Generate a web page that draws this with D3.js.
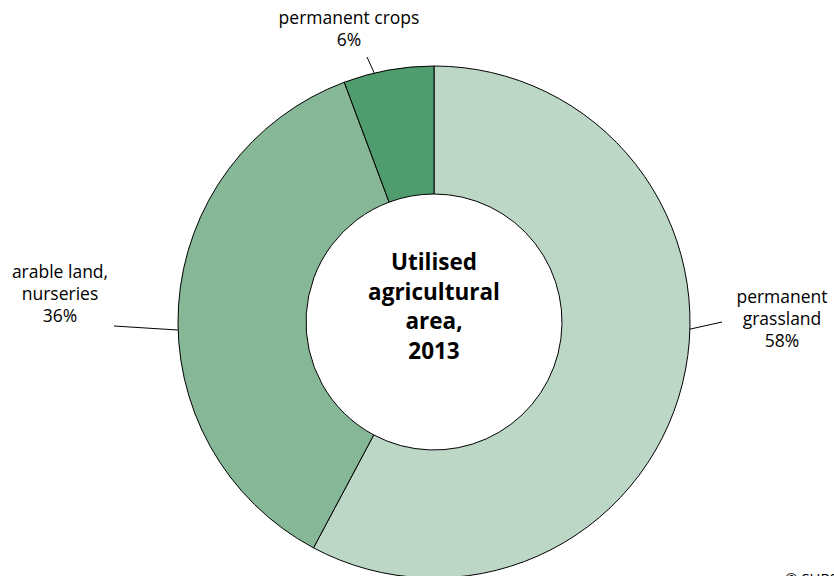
<!DOCTYPE html>
<meta charset="utf-8">
<style>
body {
  margin: 0;
  padding: 0;
  background: #fff;
}
.slice {
  stroke: #000;
  stroke-width: 1px;
}
.lbl {
  font-family: "Open Sans", "DejaVu Sans", sans-serif;
  font-size: 17.5px;
  fill: #000;
  text-anchor: middle;
}
.title {
  font-family: "Open Sans", "DejaVu Sans", sans-serif;
  font-size: 22.5px;
  font-weight: bold;
  text-anchor: middle;
}
.leader {
  stroke: #000;
  stroke-width: 1px;
}
</style>
<body>
<script src="https://cdn.jsdelivr.net/npm/d3@7"></script>
<script>
// data (shares; labels show rounded values)
var categories = ["permanent grassland", "arable land, nurseries", "permanent crops"];
var shares = [57.8, 36.5, 5.7];
var labelLines = [
  ["permanent", "grassland", "58%"],
  ["arable land,", "nurseries", "36%"],
  ["permanent crops", "6%"]
];
var colors = ["#bdd7c6", "#86b796", "#4f9c6e"];
var titleLines = ["Utilised", "agricultural", "area,", "2013"];

var width = 834,
    height = 576,
    cx = 434,
    cy = 322,
    outerR = 256,
    innerR = 128;

var svg = d3.select("body").append("svg")
    .attr("width", width)
    .attr("height", height);

var pie = d3.pie().sort(null).value(function(d) { return d; });
var arc = d3.arc().innerRadius(innerR).outerRadius(outerR);

var g = svg.append("g").attr("transform", "translate(" + cx + "," + cy + ")");

var arcs = pie(shares);

g.selectAll("path.slice")
    .data(arcs)
  .enter().append("path")
    .attr("class", "slice")
    .attr("fill", function(d, i) { return colors[i]; })
    .attr("d", arc);

// label layout: leader start angle on the ring (deg, clockwise from top),
// leader end point and text anchor (page coords)
var layout = [
  {ang: 91.6, ex: 722, ey: 322, tx: 782, ty: 303},
  {ang: 268.2, ex: 114, ey: 326, tx: 60, ty: 278},
  {ang: 346.5, ex: 367, ey: 57, tx: 349, ty: 24}
];

layout.forEach(function(l, i) {
  var a = l.ang * Math.PI / 180;
  g.append("line")
      .attr("class", "leader")
      .attr("x1", outerR * Math.sin(a)).attr("y1", -outerR * Math.cos(a))
      .attr("x2", l.ex - cx).attr("y2", l.ey - cy);

  var t = svg.append("text")
      .attr("class", "lbl")
      .attr("x", l.tx)
      .attr("y", l.ty);
  labelLines[i].forEach(function(s, k) {
    t.append("tspan")
        .attr("x", l.tx)
        .attr("dy", k === 0 ? 0 : 22)
        .text(s);
  });
});

var title = g.append("text")
    .attr("class", "title")
    .attr("y", 270 - cy);
titleLines.forEach(function(s, k) {
  title.append("tspan")
      .attr("x", 0)
      .attr("dy", k === 0 ? 0 : 29.5)
      .text(s);
});

svg.append("text")
    .attr("x", 785)
    .attr("y", 584)
    .attr("font-family", "Open Sans, DejaVu Sans, sans-serif")
    .attr("font-size", 15)
    .text("© SURS");
</script>
